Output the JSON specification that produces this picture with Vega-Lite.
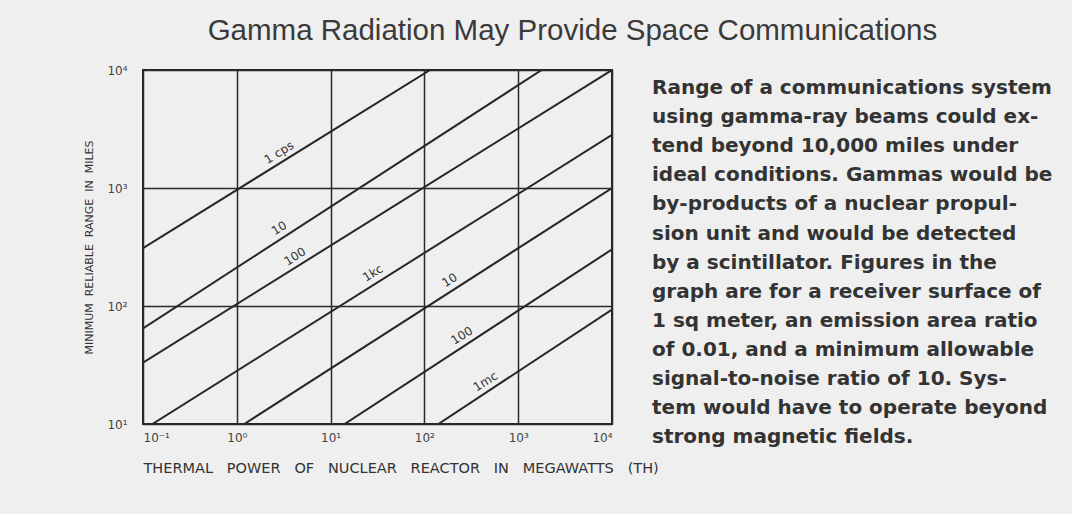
{
  "$schema": "https://vega.github.io/schema/vega-lite/v6.json",
  "background": "#efefef",
  "padding": {"left": 82, "top": 15, "right": 10, "bottom": 38},
  "title": {
    "text": "Gamma Radiation May Provide Space Communications",
    "font": "Liberation Sans",
    "fontSize": 29.5,
    "fontWeight": "normal",
    "color": "#3a3a3a",
    "anchor": "middle",
    "offset": 17
  },
  "datasets": {
    "curves": [
      {"series": "1 cps", "power": 0.1, "range": 309},
      {"series": "1 cps", "power": 115, "range": 10000},
      {"series": "10 cps", "power": 0.1, "range": 64.6},
      {"series": "10 cps", "power": 1778, "range": 10000},
      {"series": "100 cps", "power": 0.1, "range": 33.1},
      {"series": "100 cps", "power": 10000, "range": 10000},
      {"series": "1 kc", "power": 0.126, "range": 10},
      {"series": "1 kc", "power": 10000, "range": 2818},
      {"series": "10 kc", "power": 1.2, "range": 10},
      {"series": "10 kc", "power": 10000, "range": 1000},
      {"series": "100 kc", "power": 14.1, "range": 10},
      {"series": "100 kc", "power": 10000, "range": 302},
      {"series": "1 mc", "power": 141, "range": 10},
      {"series": "1 mc", "power": 10000, "range": 93.3}
    ],
    "labels": [
      {"label": "1 cps", "power": 2.82, "range": 2000},
      {"label": "10", "power": 2.82, "range": 457},
      {"label": "100", "power": 4.17, "range": 263},
      {"label": "1kc", "power": 28.2, "range": 190},
      {"label": "10", "power": 186, "range": 166},
      {"label": "100", "power": 251, "range": 56.2},
      {"label": "1mc", "power": 447, "range": 22.9}
    ],
    "caption": [
      {"line": 1, "col": 0, "text": "Range of a communications system"},
      {"line": 2, "col": 0, "text": "using gamma-ray beams could ex-"},
      {"line": 3, "col": 0, "text": "tend beyond 10,000 miles under"},
      {"line": 4, "col": 0, "text": "ideal conditions. Gammas would be"},
      {"line": 5, "col": 0, "text": "by-products of a nuclear propul-"},
      {"line": 6, "col": 0, "text": "sion unit and would be detected"},
      {"line": 7, "col": 0, "text": "by a scintillator. Figures in the"},
      {"line": 8, "col": 0, "text": "graph are for a receiver surface of"},
      {"line": 9, "col": 0, "text": "1 sq meter, an emission area ratio"},
      {"line": 10, "col": 0, "text": "of 0.01, and a minimum allowable"},
      {"line": 11, "col": 0, "text": "signal-to-noise ratio of 10. Sys-"},
      {"line": 12, "col": 0, "text": "tem would have to operate beyond"},
      {"line": 13, "col": 0, "text": "strong magnetic fields."}
    ]
  },
  "bounds": "flush",
  "spacing": 40,
  "hconcat": [
    {
      "width": 469,
      "height": 354,
      "view": {"stroke": "#262626", "strokeWidth": 2, "fill": null},
      "encoding": {
        "x": {
          "field": "power",
          "type": "quantitative",
          "scale": {"type": "log", "domain": [0.1, 10000], "nice": false},
          "axis": {
            "values": [0.1, 1, 10, 100, 1000, 10000],
            "labelExpr": "datum.value < 0.5 ? '10⁻¹' : datum.value < 5 ? '10⁰' : datum.value < 50 ? '10¹' : datum.value < 500 ? '10²' : datum.value < 5000 ? '10³' : '10⁴'",
            "title": "THERMAL\u00a0\u00a0\u00a0POWER\u00a0\u00a0\u00a0OF\u00a0\u00a0\u00a0NUCLEAR\u00a0\u00a0\u00a0REACTOR\u00a0\u00a0\u00a0IN\u00a0\u00a0\u00a0MEGAWATTS\u00a0\u00a0\u00a0(TH)",
            "titleFontSize": 14.5,
            "titleAnchor": "start",
            "titleAlign": "left",
            "titlePadding": 18,
            "labelPadding": 8
          }
        },
        "y": {
          "field": "range",
          "type": "quantitative",
          "scale": {"type": "log", "domain": [10, 10000], "nice": false},
          "axis": {
            "values": [10, 100, 1000, 10000],
            "labelExpr": "datum.value < 50 ? '10¹' : datum.value < 500 ? '10²' : datum.value < 5000 ? '10³' : '10⁴'",
            "title": "MINIMUM\u00a0\u00a0RELIABLE\u00a0\u00a0RANGE\u00a0\u00a0IN\u00a0\u00a0MILES",
            "titleFontSize": 11,
            "titlePadding": 12,
            "labelPadding": 16
          }
        }
      },
      "layer": [
        {
          "data": {"name": "curves"},
          "mark": {"type": "line", "color": "#262626", "strokeWidth": 2, "clip": true},
          "encoding": {"detail": {"field": "series"}}
        },
        {
          "data": {"name": "labels"},
          "mark": {"type": "text", "angle": -32, "font": "DejaVu Sans", "fontSize": 12, "color": "#333333", "align": "center", "baseline": "middle"},
          "encoding": {"text": {"field": "label"}}
        }
      ]
    },
    {
      "width": 410,
      "height": 380,
      "view": {"stroke": null},
      "data": {"name": "caption"},
      "mark": {"type": "text", "align": "left", "baseline": "middle", "font": "DejaVu Sans", "fontWeight": "bold", "fontSize": 20, "color": "#333333"},
      "encoding": {
        "x": {"field": "col", "type": "quantitative", "scale": {"domain": [0, 1]}, "axis": null},
        "y": {"field": "line", "type": "quantitative", "scale": {"domain": [0.381, 13.44], "reverse": true}, "axis": null},
        "text": {"field": "text"}
      }
    }
  ],
  "config": {
    "font": "DejaVu Sans",
    "axis": {
      "domain": false,
      "ticks": false,
      "grid": true,
      "gridColor": "#2a2a2a",
      "gridWidth": 1.5,
      "gridOpacity": 1,
      "labelFont": "DejaVu Sans",
      "labelFontSize": 12,
      "labelColor": "#444444",
      "titleFont": "DejaVu Sans",
      "titleFontWeight": "normal",
      "titleColor": "#333333"
    }
  }
}
